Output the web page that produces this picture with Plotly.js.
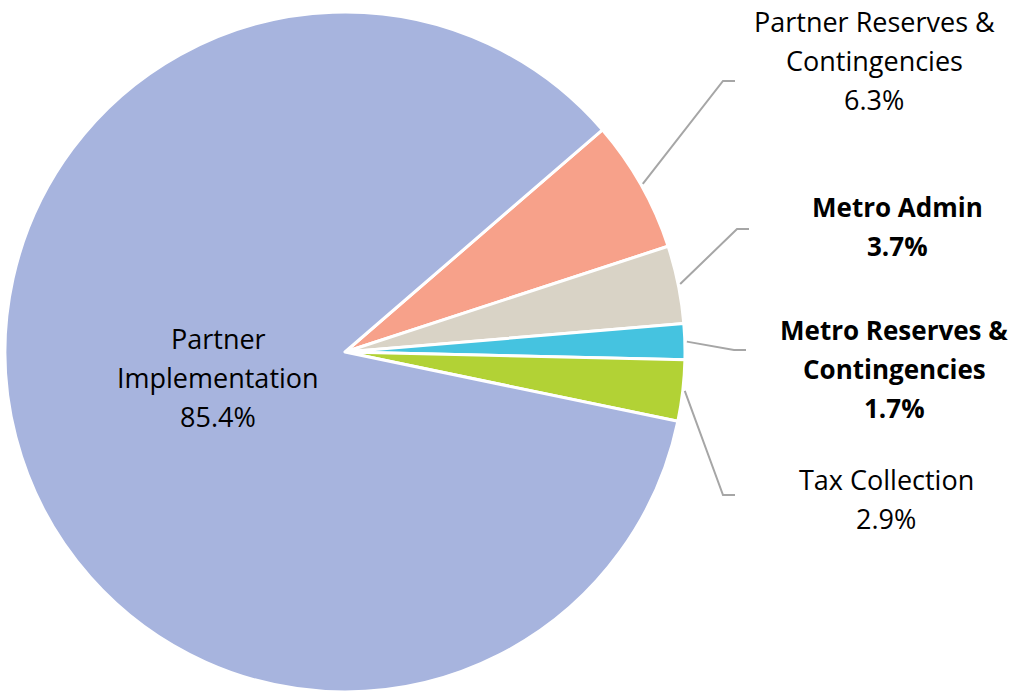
<!DOCTYPE html>
<html>
<head>
<meta charset="utf-8">
<script src="https://cdn.plot.ly/plotly-3.0.1.min.js"></script>
<style>html,body{margin:0;padding:0;background:#fff}#chart{width:1011px;height:692px}</style>
</head>
<body>
<div id="chart"></div>
<script>
// ---- data ----
const categories = ['Partner Reserves & Contingencies', 'Metro Admin', 'Metro Reserves & Contingencies', 'Tax Collection', 'Partner Implementation'];
const values = [6.3, 3.7, 1.7, 2.9, 85.4];
const labelLines = [['Partner Reserves &', 'Contingencies'], ['Metro Admin'], ['Metro Reserves &', 'Contingencies'], ['Tax Collection'], ['Partner', 'Implementation']];
const colors = ['#F7A18A', '#D9D3C6', '#45C3E0', '#B2D235', '#A7B4DE'];
const boldLabels = [false, true, true, false, false];

// ---- layout config (pixels) ----
const W = 1011, H = 692;
const cx = 345, cy = 352, R = 340;
const rotation = 49.2;
const fontFamily = '"Open Sans", Lato, sans-serif';
const fontSize = 27;
const boldFontSize = 26;
const lineGap = 39;
// label placement: text centre x, first line centre y, elbow point (null = inside, no leader)
const labelPos = [
  {x: 874, y: 22, ex: 723, ey: 81},
  {x: 897, y: 207, ex: 737, ey: 229},
  {x: 894, y: 330, ex: 734, ey: 350},
  {x: 886, y: 479, ex: 723, ey: 495},
  {x: 218, y: 338, ex: null, ey: null}
];
const tailLen = 12;

const px = v => v / W, py = v => 1 - v / H;
const total = values.reduce((a, b) => a + b, 0);

const annotations = [];
const shapes = [];
let cum = 0;
values.forEach((v, i) => {
  const pct = (100 * v / total).toFixed(1) + '%';
  const lines = labelLines[i].concat([pct]);
  const p = labelPos[i];
  lines.forEach((t, k) => {
    annotations.push({
      xref: 'paper', yref: 'paper', x: px(p.x), y: py(p.y + k * lineGap),
      xanchor: 'center', yanchor: 'middle', showarrow: false,
      text: boldLabels[i] ? '<b>' + t + '</b>' : t,
      font: {family: fontFamily, size: boldLabels[i] ? boldFontSize : fontSize, color: '#000'}
    });
  });
  const mid = (rotation + 360 * (cum + v / 2) / total) * Math.PI / 180;
  cum += v;
  if (p.ex !== null) {
    const sx = cx + (R + 2) * Math.sin(mid), sy = cy - (R + 2) * Math.cos(mid);
    shapes.push({
      type: 'path', xref: 'paper', yref: 'paper',
      path: `M ${px(sx)} ${py(sy)} L ${px(p.ex)} ${py(p.ey)} L ${px(p.ex + tailLen)} ${py(p.ey)}`,
      line: {color: '#A6A6A6', width: 2}
    });
  }
});

const trace = {
  type: 'pie',
  labels: categories,
  values: values,
  sort: false,
  direction: 'clockwise',
  rotation: rotation,
  textinfo: 'none',
  hoverinfo: 'label+percent',
  marker: {colors: colors, line: {color: '#FFFFFF', width: 3}},
  domain: {x: [(cx - R) / W, (cx + R) / W], y: [1 - (cy + R) / H, 1 - (cy - R) / H]}
};

Plotly.newPlot('chart', [trace], {
  width: W, height: H,
  margin: {l: 0, r: 0, t: 0, b: 0},
  showlegend: false,
  paper_bgcolor: '#FFFFFF',
  annotations: annotations,
  shapes: shapes
}, {displayModeBar: false, staticPlot: true});
</script>
</body>
</html>
